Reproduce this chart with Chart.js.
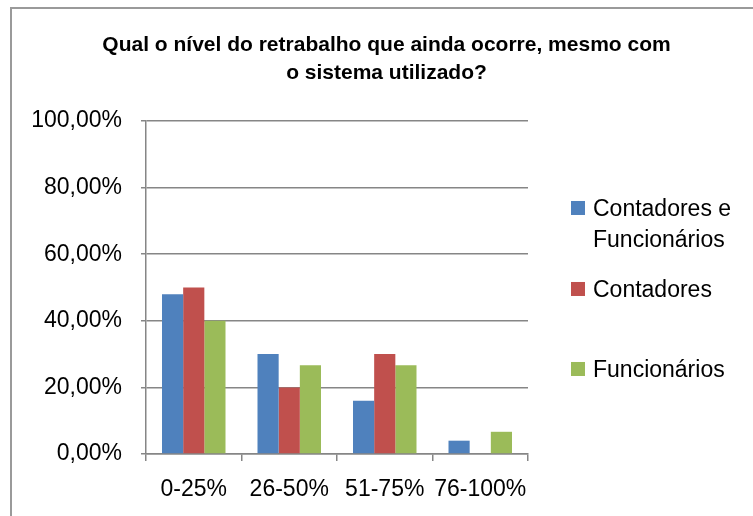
<!DOCTYPE html>
<html>
<head>
<meta charset="utf-8">
<script src="https://cdn.jsdelivr.net/npm/chart.js@4/dist/chart.umd.min.js"></script>
<style>
  html, body { margin: 0; padding: 0; background: #fff; }
  #wrap { width: 753px; height: 516px; position: relative; }
</style>
</head>
<body>
<div id="wrap"><canvas id="chart"></canvas></div>
<script>
// chart data
const categories = ['0-25%', '26-50%', '51-75%', '76-100%'];
const seriesNames = ['Contadores e Funcionários', 'Contadores', 'Funcionários'];
const legendLines = [['Contadores e', 'Funcionários'], ['Contadores'], ['Funcionários']];
const contadoresEFuncionarios = [48, 30, 16, 4];
const contadores = [50, 20, 30, 0];
const funcionarios = [40, 26.67, 26.67, 6.67];
const seriesColors = ['#4F81BD', '#C0504D', '#9BBB59'];
const yTicks = [0, 20, 40, 60, 80, 100];
const titleLines = ['Qual o nível do retrabalho que ainda ocorre, mesmo com', 'o sistema utilizado?'];

const FONT = "'Liberation Sans', Arial, sans-serif";
const GRID = '#868686';

// white background and the outer frame
const framePlugin = {
    id: 'frame',
    beforeDraw: function (chart) {
        const c = chart.ctx;
        c.save();
        c.fillStyle = '#fff';
        c.fillRect(0, 0, chart.width, chart.height);
        c.strokeStyle = '#9a9a9a';
        c.lineWidth = 2;
        c.beginPath();
        c.moveTo(11, chart.height);
        c.lineTo(11, 8);
        c.lineTo(chart.width, 8);
        c.stroke();
        c.restore();
    }
};

// legend on the right, Excel style (wrapped first entry)
const legendPlugin = {
    id: 'sideLegend',
    afterDraw: function (chart) {
        const c = chart.ctx;
        const area = chart.chartArea;
        const offsets = [87, 168, 248];
        c.save();
        c.font = '23px ' + FONT;
        c.textBaseline = 'middle';
        c.textAlign = 'left';
        chart.data.datasets.forEach(function (ds, i) {
            const cy = area.top + offsets[i];
            c.fillStyle = ds.backgroundColor;
            c.fillRect(area.right + 43, cy - 7, 14, 14);
            c.fillStyle = '#000';
            legendLines[i].forEach(function (line, j) {
                c.fillText(line, area.right + 65, cy + 2 + j * 31);
            });
        });
        c.restore();
    }
};

const ctx = document.getElementById('chart').getContext('2d');
new Chart(ctx, {
    type: 'bar',
    data: {
        labels: categories,
        datasets: [
            { label: seriesNames[0], data: contadoresEFuncionarios, backgroundColor: seriesColors[0] },
            { label: seriesNames[1], data: contadores, backgroundColor: seriesColors[1] },
            { label: seriesNames[2], data: funcionarios, backgroundColor: seriesColors[2] }
        ]
    },
    options: {
        responsive: true,
        maintainAspectRatio: false,
        animation: false,
        layout: { padding: { left: 20, right: 0, top: 0, bottom: 0 } },
        datasets: {
            bar: { categoryPercentage: 0.665, barPercentage: 1.0, borderWidth: 0 }
        },
        plugins: {
            legend: { display: false },
            tooltip: { enabled: false },
            title: {
                display: true,
                text: titleLines,
                color: '#000',
                font: { family: FONT, size: 21, weight: 'bold', lineHeight: 1.333 },
                padding: { top: 31, bottom: 34 }
            }
        },
        scales: {
            x: {
                grid: { display: true, drawOnChartArea: false, drawTicks: true, offset: true, tickLength: 7, color: GRID, lineWidth: 1.5 },
                border: { display: true, color: GRID, width: 1.5 },
                ticks: { color: '#000', padding: 15, font: { family: FONT, size: 23 }, maxRotation: 0 },
                afterFit: function (scale) { scale.height = 62; }
            },
            y: {
                min: 0,
                max: 100,
                afterBuildTicks: function (scale) {
                    scale.ticks = yTicks.map(function (v) { return { value: v }; });
                },
                grid: { color: GRID, lineWidth: 1.5, tickLength: 5, drawTicks: true },
                border: { display: true, color: GRID, width: 1.5 },
                ticks: {
                    color: '#000',
                    padding: 19,
                    font: { family: FONT, size: 23 },
                    callback: function (v) { return v.toFixed(2).replace('.', ',') + '%'; }
                },
                afterFit: function (scale) { scale.width = 126; }
            },
            legendSpace: {
                type: 'linear',
                position: 'right',
                display: true,
                grid: { display: false },
                border: { display: false },
                ticks: { display: false },
                afterFit: function (scale) { scale.width = 225; }
            }
        }
    },
    plugins: [framePlugin, legendPlugin]
});
</script>
</body>
</html>
